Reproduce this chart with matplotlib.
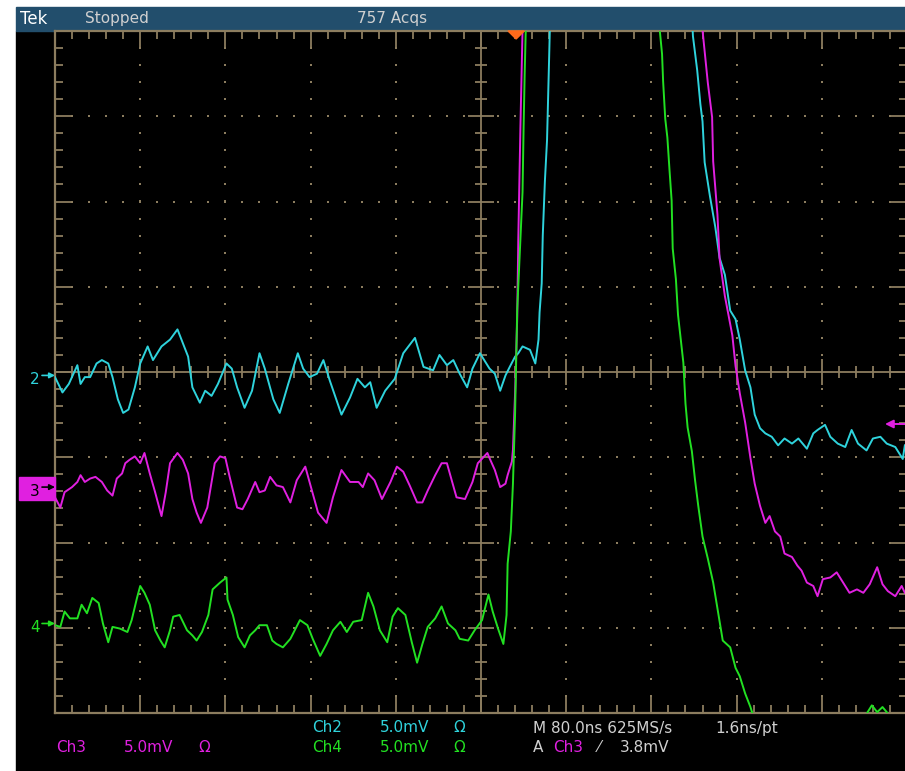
import numpy as np
import matplotlib
matplotlib.use('Agg')
import matplotlib.pyplot as plt
from matplotlib.patches import Rectangle, Polygon
from matplotlib.collections import LineCollection

# scope settings
ns_per_div = 80.0
mv_per_div = 5.0
ch2_pos = -0.06   # channel ground positions, divisions from centre
ch3_pos = -1.37
ch4_pos = -2.97
trig_level_mv = 3.8   # on Ch3
trig_pos_ns = 33

# readings off the screen: time (ns, 0 = centre) and amplitude (mV)
ch2_t = [-400, -393, -387, -379, -376, -372, -367, -361, -356, -350,
         -346, -341, -336, -331, -325, -320, -313, -308, -300, -292,
         -285, -280, -275, -271, -264, -259, -253, -247, -239, -234,
         -229, -222, -215, -208, -203, -195, -189, -181, -172, -167,
         -161, -154, -148, -142, -131, -123, -116, -109, -104, -98,
         -90, -81, -73, -62, -54, -45, -39, -32, -26, -20,
         -13, -8, -1, 8, 13, 18, 23, 27, 32, 35,
         39, 46, 51, 54, 55, 57, 58, 60, 62, 64,
         66, 131, 196, 199, 203, 206, 208, 210, 215, 220,
         224, 229, 234, 239, 243, 248, 253, 257, 262, 267,
         273, 279, 285, 292, 298, 306, 312, 316, 323, 328,
         335, 342, 348, 354, 362, 368, 375, 381, 389, 396,
         398]
ch2_mv = [0.0, -0.9, -0.4, 0.7, -0.4, 0.0, 0.0, 0.8, 1.0, 0.8,
          0.0, -1.3, -2.1, -1.9, -0.6, 0.8, 1.8, 1.0, 1.8, 2.2,
          2.8, 2.0, 1.2, -0.6, -1.5, -0.8, -1.1, -0.4, 0.8, 0.5,
          -0.6, -1.8, -0.8, 1.4, 0.5, -1.3, -2.1, -0.4, 1.4, 0.5,
          0.0, 0.2, 1.0, -0.2, -2.2, -1.2, -0.1, -0.6, -0.3, -1.8,
          -0.8, -0.1, 1.4, 2.3, 0.6, 0.4, 1.3, 0.7, 1.0, 0.2,
          -0.6, 0.5, 1.4, 0.5, 0.2, -0.8, 0.1, 0.6, 1.2, 1.4,
          1.8, 1.6, 0.8, 2.2, 3.8, 5.5, 8.3, 11.5, 13.9, 18.8,
          23.9, 24.0, 23.9, 20.0, 18.0, 16.0, 15.0, 12.6, 10.6, 8.8,
          7.0, 6.0, 3.9, 3.4, 2.2, 0.4, -0.6, -2.2, -3.0, -3.3,
          -3.5, -4.0, -3.6, -3.9, -3.6, -4.2, -3.3, -3.1, -2.8, -3.5,
          -3.9, -4.1, -3.1, -3.9, -4.3, -3.6, -3.5, -3.9, -4.1, -4.8,
          -4.0]

ch3_t = [-400, -395, -391, -384, -379, -376, -372, -367, -362, -356,
         -351, -346, -342, -337, -334, -330, -325, -320, -316, -311,
         -306, -300, -296, -292, -285, -280, -275, -271, -267, -263,
         -257, -253, -250, -245, -240, -236, -229, -224, -219, -212,
         -208, -203, -198, -192, -186, -179, -173, -165, -161, -153,
         -145, -139, -131, -123, -115, -111, -106, -100, -93, -85,
         -79, -73, -67, -60, -55, -50, -43, -37, -32, -27,
         -23, -15, -8, -3, 6, 8, 13, 18, 23, 25,
         29, 30, 32, 34, 35, 37, 39, 40, 206, 208,
         213, 217, 218, 222, 224, 229, 236, 239, 243, 248,
         253, 257, 262, 267, 271, 276, 281, 285, 292, 297,
         301, 306, 312, 316, 321, 328, 334, 340, 346, 353,
         359, 365, 372, 377, 382, 389, 395, 398]
ch3_mv = [-0.5, -1.1, -0.2, 0.1, 0.4, 0.8, 0.4, 0.6, 0.7, 0.4,
          -0.1, -0.4, 0.6, 0.9, 1.5, 1.7, 1.9, 1.5, 2.1, 0.9,
          -0.2, -1.6, -0.2, 1.5, 2.1, 1.7, 0.9, -0.6, -1.4, -2.0,
          -1.1, 0.4, 1.5, 1.9, 1.8, 0.7, -1.1, -1.2, -0.6, 0.4,
          -0.2, -0.1, 0.7, 0.2, 0.1, -0.8, 0.5, 1.3, 0.4, -1.4,
          -2.0, -0.5, 1.1, 0.4, 0.4, 0.1, 0.9, 0.5, -0.6, 0.4,
          1.3, 1.0, 0.2, -0.8, -0.8, -0.1, 0.8, 1.5, 1.5, 0.4,
          -0.5, -0.6, 0.4, 1.5, 2.1, 1.8, 1.1, 0.1, 0.3, 0.8,
          1.6, 2.3, 5.6, 10.0, 14.6, 21.2, 26.9, 32.0, 32.0, 26.9,
          23.8, 21.8, 19.2, 16.1, 13.5, 11.3, 9.0, 7.2, 5.6, 3.9,
          1.8, 0.3, -1.0, -2.0, -1.6, -2.5, -2.8, -3.8, -4.0, -4.5,
          -4.8, -5.5, -5.7, -6.3, -5.3, -5.2, -4.9, -5.5, -6.1, -5.9,
          -6.1, -5.6, -4.6, -5.6, -6.0, -6.3, -5.7, -6.1]

ch4_t = [-400, -395, -391, -386, -379, -375, -370, -365, -359, -355,
         -350, -346, -339, -332, -328, -323, -320, -316, -311, -306,
         -301, -297, -292, -289, -283, -276, -271, -267, -262, -256,
         -252, -245, -239, -238, -233, -228, -222, -217, -212, -208,
         -201, -196, -192, -186, -179, -170, -163, -158, -151, -145,
         -139, -132, -126, -120, -112, -106, -101, -95, -88, -83,
         -78, -71, -65, -60, -55, -50, -43, -37, -31, -24,
         -20, -12, -6, 1, 7, 11, 16, 21, 24, 25,
         28, 30, 32, 34, 37, 39, 40, 41, 42, 44,
         164, 168, 170, 171, 173, 175, 177, 179, 180, 183,
         185, 188, 190, 192, 194, 198, 201, 204, 208, 213,
         218, 223, 227, 234, 239, 243, 248, 253, 255, 271,
         356, 363, 367, 372, 377, 381, 389, 398]
ch4_mv = [0.0, -0.1, 0.8, 0.4, 0.4, 1.2, 0.7, 1.6, 1.3, 0.1,
          -1.0, -0.1, -0.2, -0.4, 0.3, 1.6, 2.3, 1.9, 1.2, -0.3,
          -0.9, -1.3, -0.3, 0.5, 0.6, -0.3, -0.6, -0.9, -0.4, 0.6,
          2.1, 2.5, 2.8, 1.5, 0.6, -0.7, -1.3, -0.6, -0.3, 0.0,
          0.0, -0.9, -1.1, -1.3, -0.8, 0.3, 0.0, -0.8, -1.8, -1.1,
          -0.3, 0.2, -0.4, 0.2, 0.3, 1.9, 1.1, -0.3, -1.0, 0.5,
          1.0, 0.6, -1.0, -2.2, -1.1, -0.1, 0.4, 1.1, 0.1, -0.3,
          -0.8, -0.9, -0.3, 0.3, 1.8, 0.8, -0.2, -1.1, 0.6, 3.6,
          5.5, 8.3, 12.4, 18.5, 22.6, 25.4, 29.2, 32.3, 34.8, 40.0,
          40.0, 34.8, 33.5, 31.9, 29.7, 28.6, 26.7, 24.9, 22.1, 20.3,
          18.2, 16.5, 15.4, 13.0, 11.6, 10.2, 8.5, 7.0, 5.2, 3.9,
          2.5, 0.6, -0.9, -1.3, -2.5, -3.0, -4.0, -4.8, -5.2, -6.7,
          -5.9, -5.1, -4.7, -5.1, -4.8, -5.1, -6.2, -6.7]

cyan = '#2fd3dc'
magenta = '#e020e0'
green = '#22e022'
grat = '#8c7d5f'
txt = '#d0d0d0'

W, H = 905, 771
fig = plt.figure(figsize=(W / 100, H / 100), dpi=100, facecolor='white')


def fx(px):
    return px / W


def fy(py):
    return 1 - py / H


# black screen and title bar
fig.add_artist(Rectangle((fx(16), 0), 1 - fx(16), fy(31), transform=fig.transFigure,
                         color='black', zorder=0))
fig.add_artist(Rectangle((fx(16), fy(31)), 1 - fx(16), fy(7) - fy(31),
                         transform=fig.transFigure, color='#224e6c', zorder=0))

ax = fig.add_axes([fx(55), fy(713), (907 - 55) / W, (713 - 31) / H])
ax.set_facecolor('black')
ax.set_xlim(-5, 5)
ax.set_ylim(-4, 4)
ax.set_xticks([])
ax.set_yticks([])
for s in ax.spines.values():
    s.set_color(grat)
    s.set_linewidth(1.6)

# graticule: centre cross, border and centre ticks, dotted grid
ax.axhline(0, color=grat, lw=1.3, zorder=1)
ax.axvline(0, color=grat, lw=1.3, zorder=1)
segs = []
for x in np.round(np.arange(-5, 5.001, 0.2), 2):
    major = abs(x - round(x)) < 1e-6
    L = 0.2 if major else 0.095
    c = 0.15 if major else 0.075
    segs += [[(x, -4), (x, -4 + L)], [(x, 4), (x, 4 - L)], [(x, -c), (x, c)]]
for y in np.round(np.arange(-4, 4.001, 0.2), 2):
    major = abs(y - round(y)) < 1e-6
    L = 0.2 if major else 0.095
    c = 0.15 if major else 0.075
    segs += [[(-5, y), (-5 + L, y)], [(5, y), (5 - L, y)], [(-c, y), (c, y)]]
ax.add_collection(LineCollection(segs, colors=grat, linewidths=1.3, zorder=1))

dx, dy = [], []
for gx in [-4, -3, -2, -1, 1, 2, 3, 4]:
    for v in np.arange(-3.8, 3.81, 0.2):
        dx.append(gx)
        dy.append(v)
for gy in [-3, -2, -1, 1, 2, 3]:
    for v in np.arange(-4.8, 4.81, 0.2):
        dx.append(v)
        dy.append(gy)
ax.scatter(dx, dy, s=2.2, marker='s', color=grat, linewidths=0, zorder=1)

# traces
for t, mv, pos, col in [(ch2_t, ch2_mv, ch2_pos, cyan),
                        (ch3_t, ch3_mv, ch3_pos, magenta),
                        (ch4_t, ch4_mv, ch4_pos, green)]:
    ax.plot(np.array(t) / ns_per_div, np.array(mv) / mv_per_div + pos,
            color=col, lw=1.4, zorder=3)

# channel ground markers on the left
ytr = ax.get_yaxis_transform()
axw = 907 - 55
ax.add_patch(Rectangle(((19 - 55) / axw, ch3_pos - 0.135), 36 / axw, 0.27,
                       transform=ytr, color=magenta, clip_on=False, zorder=4))
for label, pos, col in [('2', ch2_pos, cyan), ('3', ch3_pos, 'black'), ('4', ch4_pos, green)]:
    ax.text((35 - 55) / axw, pos - 0.03, label, transform=ytr, color=col,
            fontsize=11, ha='center', va='center', clip_on=False, zorder=5)
    ax.annotate('', xy=(0, pos + 0.02), xytext=((42 - 55) / axw, pos + 0.02),
                xycoords=ytr, annotation_clip=False, zorder=5,
                arrowprops=dict(arrowstyle='-|>', color=col, lw=1.2,
                                mutation_scale=8, shrinkA=0, shrinkB=0))

# trigger level arrow (right) and trigger position marker (top)
trig_y = ch3_pos + trig_level_mv / mv_per_div
ax.annotate('', xy=((885 - 55) / axw, trig_y), xytext=((905 - 55) / axw, trig_y),
            xycoords=ytr, annotation_clip=False, zorder=5,
            arrowprops=dict(arrowstyle='-|>', color=magenta, lw=1.4,
                            mutation_scale=12, shrinkA=0, shrinkB=0))
tp = trig_pos_ns / ns_per_div
ax.add_patch(Polygon([(tp - 0.095, 1.0), (tp + 0.095, 1.0), (tp, 1 - 8 / 682)],
                     closed=True, transform=ax.get_xaxis_transform(),
                     color='#ff6a1a', clip_on=False, zorder=5))

# title bar text
fs = 11
fig.text(fx(20), fy(19), 'Tek', color='white', fontsize=12, va='center', ha='left')
fig.text(fx(85), fy(19), 'Stopped', color=txt, fontsize=fs, va='center', ha='left')
fig.text(fx(357), fy(19), '757 Acqs', color=txt, fontsize=fs, va='center', ha='left')

# bottom readout
r1, r2 = fy(728), fy(748)
fig.text(fx(312), r1, 'Ch2', color=cyan, fontsize=fs, va='center')
fig.text(fx(380), r1, '5.0mV', color=cyan, fontsize=fs, va='center')
fig.text(fx(453), r1, 'Ω', color=cyan, fontsize=fs, va='center')
fig.text(fx(56), r2, 'Ch3', color=magenta, fontsize=fs, va='center')
fig.text(fx(124), r2, '5.0mV', color=magenta, fontsize=fs, va='center')
fig.text(fx(198), r2, 'Ω', color=magenta, fontsize=fs, va='center')
fig.text(fx(312), r2, 'Ch4', color=green, fontsize=fs, va='center')
fig.text(fx(380), r2, '5.0mV', color=green, fontsize=fs, va='center')
fig.text(fx(453), r2, 'Ω', color=green, fontsize=fs, va='center')
fig.text(fx(533), r1, 'M 80.0ns 625MS/s', color=txt, fontsize=fs, va='center')
fig.text(fx(715), r1, '1.6ns/pt', color=txt, fontsize=fs, va='center')
fig.text(fx(533), r2, 'A', color=txt, fontsize=fs, va='center')
fig.text(fx(553), r2, 'Ch3', color=magenta, fontsize=fs, va='center')
fig.text(fx(598), r2, '⁄', color=txt, fontsize=fs, va='center')
fig.text(fx(620), r2, '3.8mV', color=txt, fontsize=fs, va='center')

fig.savefig('out.png', dpi=100, facecolor='white')
